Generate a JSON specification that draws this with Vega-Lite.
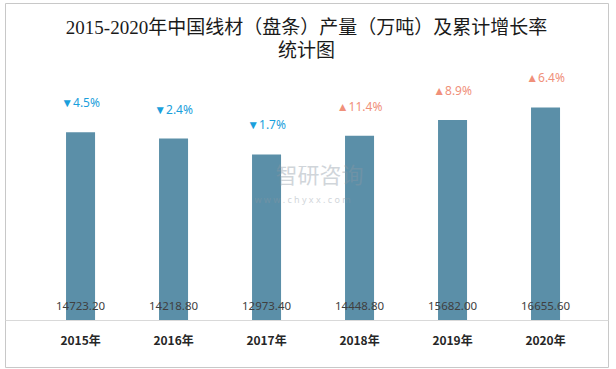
{
  "$schema": "https://vega.github.io/schema/vega-lite/v6.json",
  "width": 616,
  "height": 369,
  "autosize": {"type": "fit", "contains": "padding"},
  "padding": {"left": 5, "top": 3, "right": 8, "bottom": 2},
  "background": "white",
  "config": {"view": {"stroke": "#C8C8C8", "strokeWidth": 1}},
  "title": {
    "text": ["2015-2020年中国线材（盘条）产量（万吨）及累计增长率", "统计图"],
    "font": "Liberation Serif, Noto Sans CJK SC",
    "fontSize": 19,
    "fontWeight": "normal",
    "color": "#1a1a1a",
    "offset": -58,
    "anchor": "middle",
    "lineHeight": 23
  },
  "data": {
    "values": [
      {"year": "2015年", "value": 14723.2, "label": "▼4.5%", "dir": "down"},
      {"year": "2016年", "value": 14218.8, "label": "▼2.4%", "dir": "down"},
      {"year": "2017年", "value": 12973.4, "label": "▼1.7%", "dir": "down"},
      {"year": "2018年", "value": 14448.8, "label": "▲11.4%", "dir": "up"},
      {"year": "2019年", "value": 15682.0, "label": "▲8.9%", "dir": "up"},
      {"year": "2020年", "value": 16655.6, "label": "▲6.4%", "dir": "up"}
    ]
  },
  "encoding": {
    "x": {
      "field": "year", "type": "nominal",
      "scale": {"paddingInner": 0.688, "paddingOuter": 0.586, "align": 0.56},
      "axis": {"title": null, "domain": true, "domainColor": "#D9D9D9", "ticks": false, "offset": -47, "labelPadding": 15,
               "labelFont": "Noto Sans CJK SC", "labelFontSize": 12, "labelFontWeight": "bold",
               "labelColor": "#262626", "labelAngle": 0}
    }
  },
  "layer": [
    {
      "mark": {"type": "bar", "color": "#5B8FA8"},
      "encoding": {
        "y": {"field": "value", "type": "quantitative",
              "scale": {"domain": [-3683, 24843], "nice": false, "zero": false},
              "axis": null}
      }
    },
    {
      "mark": {"type": "text", "font": "Noto Sans", "fontSize": 11.5, "color": "#404040", "dy": -13, "baseline": "middle"},
      "encoding": {
        "y": {"datum": 0, "type": "quantitative"},
        "text": {"field": "value", "type": "quantitative", "format": ".2f"}
      }
    },
    {
      "mark": {"type": "text", "font": "Noto Sans", "fontSize": 12, "dy": -29, "baseline": "middle"},
      "encoding": {
        "y": {"field": "value", "type": "quantitative"},
        "text": {"field": "label", "type": "nominal"},
        "color": {"field": "dir", "type": "nominal",
                  "scale": {"domain": ["down", "up"], "range": ["#1AA0DC", "#F0907A"]},
                  "legend": null}
      }
    },
    {
      "data": {"values": [{"year": "2017年", "t": "智研咨询"}]},
      "mark": {"type": "text", "font": "Noto Sans CJK SC", "fontSize": 22, "color": "#8C98A4", "opacity": 0.4, "dx": 53, "baseline": "middle"},
      "encoding": {
        "y": {"datum": 11300, "type": "quantitative"},
        "text": {"field": "t", "type": "nominal"}
      }
    },
    {
      "data": {"values": [{"year": "2017年", "t": "w w w . c h y x x . c o m"}]},
      "mark": {"type": "text", "font": "Noto Sans", "fontSize": 9, "color": "#8C98A4", "opacity": 0.4, "dx": 36, "baseline": "middle"},
      "encoding": {
        "y": {"datum": 9400, "type": "quantitative"},
        "text": {"field": "t", "type": "nominal"}
      }
    }
  ]
}
